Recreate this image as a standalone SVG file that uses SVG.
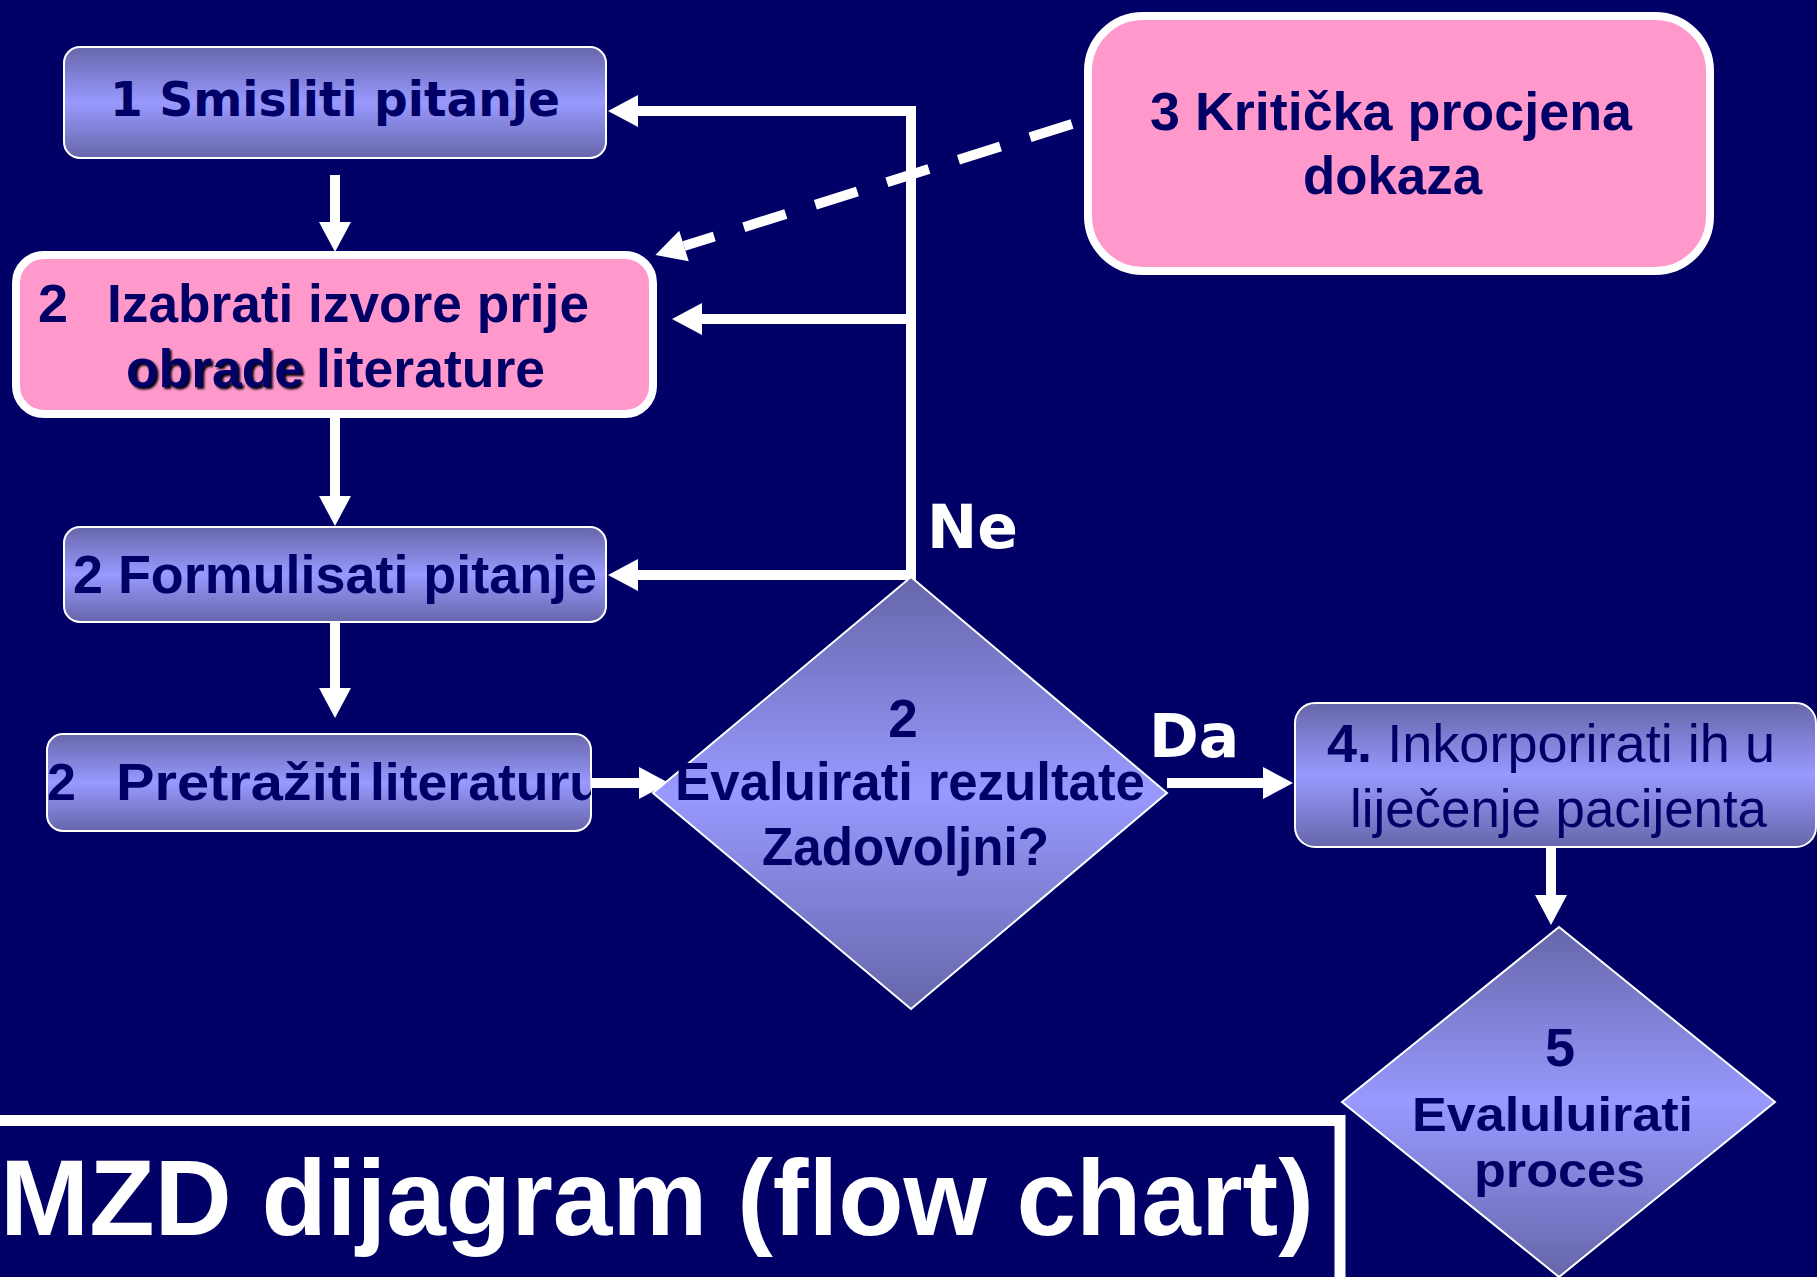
<svg xmlns="http://www.w3.org/2000/svg" width="1817" height="1277" viewBox="0 0 1817 1277">
<style>
.bg{fill:#000066}
.blue{fill:url(#blueV);stroke:#ffffff;stroke-width:2}
.pink{fill:#ff99cc;stroke:#ffffff;stroke-width:8}
.t{font-family:"Liberation Sans",Arial,sans-serif;font-weight:bold;fill:#000066;white-space:pre}
.v{font-family:"DejaVu Sans",Verdana,sans-serif;font-weight:bold;fill:#000066}
.reg{font-weight:normal}
.lbl{font-family:"DejaVu Sans",Verdana,sans-serif;font-weight:bold;fill:#ffffff;font-size:60px}
.c{fill:none;stroke:#ffffff;stroke-width:10;stroke-linejoin:miter}
.arr{marker-end:url(#ah)}
.dash{stroke-dasharray:44 31}
</style>
<defs>
<linearGradient id="blueV" x1="0" y1="0" x2="0" y2="1">
<stop offset="0" stop-color="#6666aa"/>
<stop offset="0.5" stop-color="#9999ff"/>
<stop offset="1" stop-color="#6666aa"/>
</linearGradient>
<marker id="ah" markerUnits="userSpaceOnUse" markerWidth="32" markerHeight="34" refX="0" refY="16" orient="auto" viewBox="0 0 32 34" overflow="visible">
<path d="M0,0 L30,16 L0,32 z" fill="#ffffff"/>
</marker>
<filter id="sh" x="-10%" y="-30%" width="120%" height="160%">
<feGaussianBlur stdDeviation="1.2"/>
</filter>
<clipPath id="clipP"><rect x="47" y="734" width="544" height="97" rx="16"/></clipPath>
</defs>
<rect class="bg" x="0" y="0" width="1817" height="1277"/>

<g id="connectors">
<path class="c arr" d="M335,175 V222"/>
<path class="c arr" d="M335,418 V496"/>
<path class="c arr" d="M335,622 V688"/>
<path class="c arr" d="M591,783 H639"/>
<path class="c arr" d="M1167,783 H1263"/>
<path class="c arr" d="M1551,847 V895"/>
<path class="c arr" d="M911,580 V111 H638"/>
<path class="c arr" d="M911,319 H702"/>
<path class="c arr" d="M911,575 H638"/>
<path class="c dash arr" d="M1072,124 L684,246"/>
</g>

<g id="node-smisliti">
<rect class="blue" x="64" y="47" width="542" height="111" rx="16"/>
<text class="v" x="110" y="116" font-size="48" textLength="450" lengthAdjust="spacingAndGlyphs">1 Smisliti pitanje</text>
</g>

<g id="node-izabrati">
<rect class="pink" x="16" y="255" width="637" height="159" rx="28"/>
<text class="t" x="38" y="322" font-size="54">2</text>
<text class="t" x="107" y="322" font-size="54" textLength="482" lengthAdjust="spacingAndGlyphs">Izabrati izvore prije</text>
<text class="t" x="128" y="389" font-size="54" textLength="178" lengthAdjust="spacingAndGlyphs" style="fill:#000000" filter="url(#sh)">obrade</text>
<text class="t" x="126" y="387" font-size="54" textLength="178" lengthAdjust="spacingAndGlyphs">obrade</text>
<text class="t" x="316" y="387" font-size="54" textLength="229" lengthAdjust="spacingAndGlyphs">literature</text>
</g>

<g id="node-kriticka">
<rect class="pink" x="1088" y="16" width="622" height="255" rx="55"/>
<text class="t" x="1150" y="130" font-size="53" textLength="482" lengthAdjust="spacingAndGlyphs">3 Kritička procjena</text>
<text class="t" x="1303" y="194" font-size="53" textLength="179" lengthAdjust="spacingAndGlyphs">dokaza</text>
</g>

<g id="node-formulisati">
<rect class="blue" x="64" y="527" width="542" height="95" rx="16"/>
<text class="t" x="73" y="593" font-size="53" textLength="524" lengthAdjust="spacingAndGlyphs">2 Formulisati pitanje</text>
</g>

<g id="node-pretraziti">
<rect class="blue" x="47" y="734" width="544" height="97" rx="16"/>
<g clip-path="url(#clipP)">
<text class="t" x="47" y="800" font-size="52">2</text>
<text class="t" x="116" y="800" font-size="52" textLength="247" lengthAdjust="spacingAndGlyphs">Pretražiti</text>
<text class="t" x="370" y="800" font-size="52" textLength="232" lengthAdjust="spacingAndGlyphs">literaturu</text>
</g>
</g>

<g id="node-evaluirati">
<polygon class="blue" points="911,577 1167,793 911,1009 653,793"/>
<text class="t" x="903" y="737" font-size="53" text-anchor="middle">2</text>
<text class="t" x="675" y="800" font-size="53" textLength="470" lengthAdjust="spacingAndGlyphs">Evaluirati rezultate</text>
<text class="t" x="762" y="865" font-size="53" textLength="287" lengthAdjust="spacingAndGlyphs">Zadovoljni?</text>
</g>

<g id="node-inkorporirati">
<rect class="blue" x="1295" y="703" width="521" height="144" rx="20"/>
<text class="t" x="1327" y="762" font-size="53" textLength="448" lengthAdjust="spacingAndGlyphs">4.<tspan class="reg"> Inkorporirati ih u</tspan></text>
<text class="t reg" x="1350" y="827" font-size="53" textLength="417" lengthAdjust="spacingAndGlyphs">liječenje pacijenta</text>
</g>

<g id="node-evaluluirati">
<polygon class="blue" points="1559,927 1775,1102 1559,1277 1342,1102"/>
<text class="t" x="1560" y="1066" font-size="54" text-anchor="middle">5</text>
<text class="t" x="1412" y="1131" font-size="48" textLength="281" lengthAdjust="spacingAndGlyphs">Evaluluirati</text>
<text class="t" x="1474" y="1187" font-size="48" textLength="171" lengthAdjust="spacingAndGlyphs">proces</text>
</g>

<g id="labels">
<text class="lbl" x="927" y="548">Ne</text>
<text class="lbl" x="1149" y="757">Da</text>
</g>

<g id="title">
<rect x="-20" y="1120.5" width="1360" height="162" fill="none" stroke="#ffffff" stroke-width="11"/>
<text x="0" y="1235" font-family="'Liberation Sans',Arial,sans-serif" font-weight="bold" font-size="107" fill="#ffffff">MZD dijagram (flow chart)</text>
</g>
</svg>
